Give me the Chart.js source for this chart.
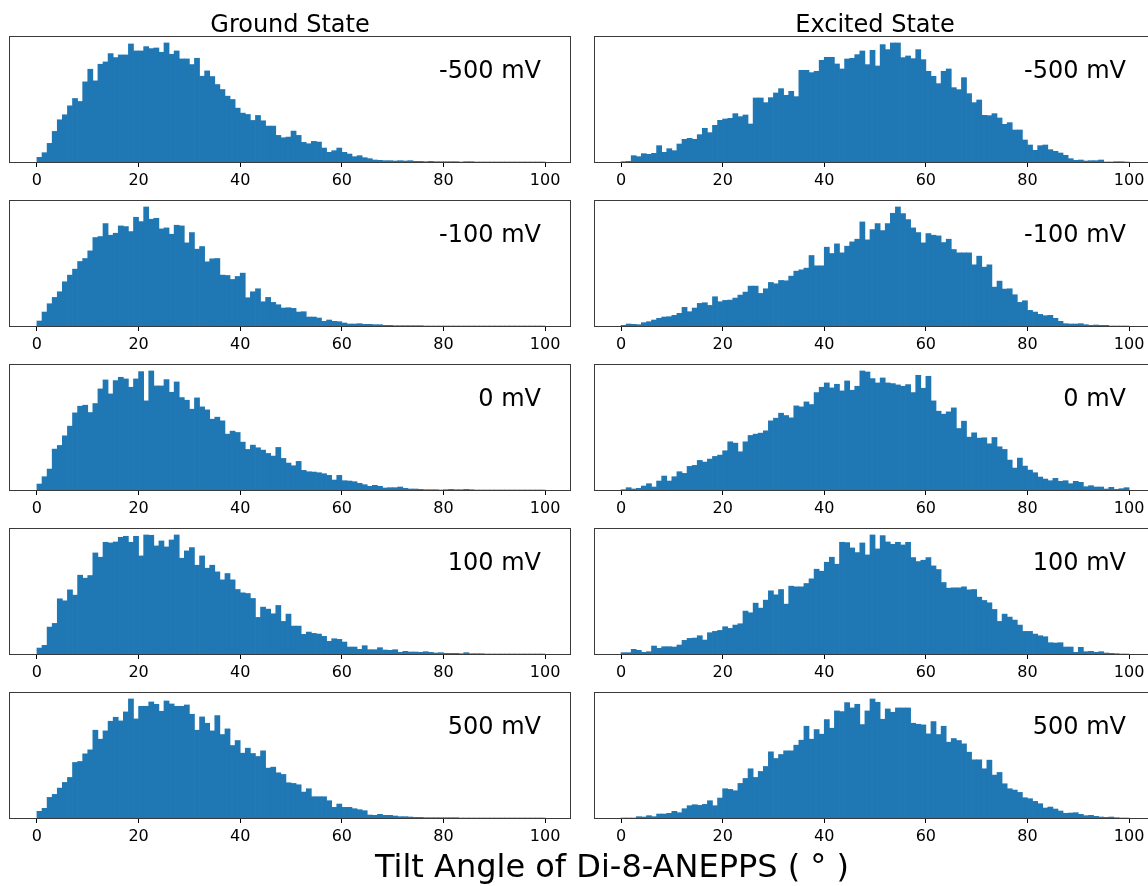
<!DOCTYPE html>
<html>
<head>
<meta charset="utf-8">
<script src="https://cdn.jsdelivr.net/npm/chart.js@4"></script>
<style>
html, body { margin: 0; padding: 0; background: #fff; overflow: hidden; width: 1148px; height: 886px; }
body { position: relative; font-family: "DejaVu Sans", sans-serif; }
.panel { position: absolute; }
.txt { position: absolute; color: #000; white-space: nowrap; line-height: 1; }
</style>
</head>
<body>
<script>
// Tick labels on the x axis (degrees)
const xTicks = [0, 20, 40, 60, 80, 100];
const binWidth = 1; // histogram bins of 1 degree, starting at 0

// Bar heights (relative counts, one per 1-degree bin)
const groundM500 = [14,28,56,92,127,142,169,191,182,241, 279,244,294,301,326,314,322,322,355,334,
  334,347,341,343,330,358,324,334,310,310, 293,312,258,274,257,233,218,198,188,162,
  147,143,125,140,124,108,108,80,73,75, 93,80,59,55,62,60,42,29,34,42,
  29,24,16,19,13,10,6,5,4,4, 3,4,3,4,2,2,1,2,1,1,
  1,1,1,0,1,1,0,0,0,0, 0,0,0,0,0,0,0,0,0,0];
const groundM100 = [15,42,67,86,103,133,153,171,194,203, 226,266,269,308,273,279,301,299,284,327,
  314,358,321,324,292,295,276,303,301,250, 281,231,239,193,202,203,153,152,140,149,
  159,85,103,112,73,86,71,64,54,55, 53,42,43,27,27,24,14,18,14,13,
  9,6,6,7,5,5,4,4,2,2, 1,1,1,1,1,1,0,0,0,0,
  0,0,0,0,0,0,0,0,0,0, 0,0,0,0,0,0,0,0,0,0];
const ground0 = [18,40,63,123,134,163,192,232,252,255, 233,260,304,331,289,329,339,334,309,334,
  356,268,358,313,313,332,294,325,278,270, 243,277,250,241,213,219,208,168,177,173,
  144,122,135,127,120,110,102,128,95,81, 73,86,59,55,54,52,49,44,30,44,
  28,27,25,20,16,11,14,11,6,7, 7,9,5,3,3,2,1,1,1,0,
  1,2,1,1,2,1,0,0,0,0, 0,0,0,0,0,0,0,0,0,0];
const groundP100 = [18,26,81,92,166,160,193,177,237,228, 236,304,291,336,334,337,351,354,336,354,
  295,358,357,325,340,322,343,358,288,310, 320,267,295,258,267,247,223,242,223,194,
  184,182,167,110,141,135,121,146,98,120, 84,84,59,66,62,60,53,38,46,44,
  36,21,21,14,25,13,13,19,12,11, 13,5,8,6,6,5,7,5,3,4,
  2,2,2,1,4,1,1,1,0,0, 0,0,0,0,0,0,0,0,0,0];
const groundP500 = [20,29,62,71,90,107,122,167,170,193, 205,264,237,262,291,303,292,319,358,298,
  336,336,349,342,321,352,343,336,336,340, 312,264,304,285,262,308,251,268,218,233,
  195,210,194,185,202,150,153,136,131,106, 104,100,78,88,64,64,64,52,32,42,
  32,32,28,25,22,9,8,11,8,8, 6,4,4,3,2,2,1,1,1,1,
  1,1,1,0,0,0,0,0,0,0, 0,0,0,0,0,0,0,0,0,0];

const excitedM500 = [1,2,19,16,25,23,26,49,29,40, 34,54,68,71,68,82,101,88,110,125,
  129,131,145,136,141,114,192,192,178,193, 207,220,200,212,196,275,275,268,272,305,
  314,314,294,279,309,311,322,333,292,335, 288,352,337,357,357,313,318,310,337,307,
  272,257,235,272,279,223,217,253,205,178, 186,140,139,145,132,113,118,96,96,66,
  51,35,49,51,37,32,27,20,10,5, 6,3,4,4,6,0,0,1,1,0];
const excitedM100 = [2,6,5,4,10,13,18,23,27,28, 32,38,56,43,54,68,70,62,88,73,
  77,78,84,93,102,120,120,98,112,131, 127,137,136,150,165,169,174,212,181,181,
  237,218,247,220,240,253,261,313,259,290, 308,287,308,339,358,338,320,295,281,250,
  278,273,271,251,261,230,220,220,220,184, 210,177,184,117,135,111,112,94,71,76,
  47,42,35,31,32,23,14,7,6,6, 7,4,2,3,2,2,0,0,0,0];
const excited0 = [1,7,3,5,12,19,9,27,42,27, 40,55,50,71,74,89,84,93,101,105,
  118,145,141,115,145,164,168,171,178,208, 216,231,224,217,253,250,265,257,293,309,
  322,307,318,298,328,300,312,358,355,335, 322,337,322,320,316,312,317,293,345,306,
  342,268,237,228,235,247,185,207,159,172, 156,157,139,158,130,122,90,66,96,72,
  60,52,39,33,28,35,26,28,19,26, 23,10,13,9,9,3,8,2,4,7];
const excitedP100 = [4,4,14,11,5,7,24,17,22,22, 21,27,41,47,48,55,42,64,68,71,
  82,77,87,91,129,124,153,138,162,190, 178,194,150,204,202,202,212,226,255,249,
  276,291,270,336,335,319,305,334,298,358, 316,356,337,330,336,328,336,290,278,282,
  290,265,254,215,198,199,199,202,193,194, 171,161,154,134,98,120,111,102,87,68,
  68,60,55,52,34,33,34,21,21,5, 20,7,8,5,7,3,2,1,0,0];
const excitedP500 = [0,0,0,4,3,7,4,12,12,14, 20,16,28,37,40,38,41,52,37,60,
  88,86,82,104,119,148,122,140,155,199, 179,191,202,202,219,234,276,237,266,252,
  296,270,322,320,347,331,342,281,322,358, 348,297,328,318,331,331,331,285,282,280,
  253,290,251,276,228,239,233,223,198,175, 175,148,174,129,137,103,88,84,77,61,
  58,50,43,30,33,27,21,14,15,16, 11,7,8,5,3,2,3,1,0,0];

const voltages = ['-500 mV', '-100 mV', '0 mV', '100 mV', '500 mV'];
const columnTitles = ['Ground State', 'Excited State'];
const groundSeries = [groundM500, groundM100, ground0, groundP100, groundP500];
const excitedSeries = [excitedM500, excitedM100, excited0, excitedP100, excitedP500];
const xLabel = 'Tilt Angle of Di-8-ANEPPS ( \u00b0 )';

// layout (page pixels)
const cols = [
  { left: 10, width: 560, xMin: -5.3, xMax: 104.9, textRight: 541, titleX: 290 },
  { left: 595, width: 559, xMin: -5.12, xMax: 104.9, textRight: 1126, titleX: 875 }
];
const rowTops = [37, 201, 365, 529, 693];
const plotH = 125;
const axisH = 30;

const framePlugin = {
  id: 'frame',
  afterDraw(chart) {
    const { ctx, chartArea: a } = chart;
    ctx.save();
    ctx.strokeStyle = '#3a3a3a';
    ctx.lineWidth = 1;
    ctx.strokeRect(Math.round(a.left) - 0.5, Math.round(a.top) - 0.5,
      Math.round(a.right - a.left) + 1, Math.round(a.bottom - a.top) + 1);
    ctx.restore();
  }
};

function addText(str, css) {
  const d = document.createElement('div');
  d.className = 'txt';
  d.textContent = str;
  Object.assign(d.style, css);
  document.body.appendChild(d);
}

function makePanel(col, top, values, label) {
  const wrap = document.createElement('div');
  wrap.className = 'panel';
  wrap.style.left = (col.left - 1) + 'px';
  wrap.style.top = (top - 1) + 'px';
  const cv = document.createElement('canvas');
  cv.width = col.width + 2;
  cv.height = plotH + 1 + axisH;
  wrap.appendChild(cv);
  document.body.appendChild(wrap);

  const points = values.map((v, i) => ({ x: i * binWidth + binWidth / 2, y: v }));
  const ymax = Math.max(...values) * 1.05;

  new Chart(cv, {
    type: 'bar',
    data: {
      datasets: [{
        data: points,
        backgroundColor: '#1f77b4',
        borderWidth: 0,
        barPercentage: 1,
        categoryPercentage: 1
      }]
    },
    options: {
      responsive: false,
      animation: false,
      devicePixelRatio: 1,
      layout: { padding: { left: 1, right: 1, top: 1, bottom: 0 } },
      plugins: { legend: { display: false }, tooltip: { enabled: false } },
      scales: {
        x: {
          type: 'linear',
          min: col.xMin,
          max: col.xMax,
          offset: false,
          afterBuildTicks: s => { s.ticks = xTicks.map(v => ({ value: v })); },
          afterFit: s => { s.height = axisH; },
          grid: { display: true, offset: false, drawOnChartArea: false, drawTicks: true, tickLength: 5, color: '#000', tickWidth: 1 },
          border: { display: true, color: '#3a3a3a', width: 1 },
          ticks: { color: '#000', padding: 4, maxRotation: 0, autoSkip: false,
            font: { family: 'DejaVu Sans', size: 16 } }
        },
        y: { display: false, min: 0, max: ymax }
      }
    },
    plugins: [framePlugin]
  });

  addText(label, { fontSize: '24px', right: (1148 - col.textRight) + 'px', top: (top + 33) + 'px', transform: 'translateY(-50%)' });
}

cols.forEach((col, c) => {
  const series = c === 0 ? groundSeries : excitedSeries;
  rowTops.forEach((t, r) => makePanel(col, t, series[r], voltages[r]));
  addText(columnTitles[c], { fontSize: '24px', left: col.titleX + 'px', top: '24px', transform: 'translate(-50%,-50%)' });
});

addText(xLabel, { fontSize: '32px', left: '612px', top: '866px', transform: 'translate(-50%,-50%)' });
</script>
</body>
</html>
